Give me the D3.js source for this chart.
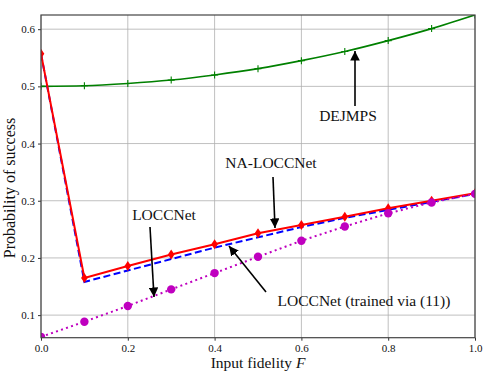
<!DOCTYPE html>
<html><head><meta charset="utf-8">
<script src="https://cdn.jsdelivr.net/npm/d3@7"></script>
<style>body{margin:0;background:#fff}svg{display:block}</style>
</head><body><svg id="c" width="494" height="374"></svg>
<script>
const fidelity = [0.0,0.1,0.2,0.3,0.4,0.5,0.6,0.7,0.8,0.9,1.0];
const dejmps = [0.500,0.501,0.505,0.511,0.520,0.531,0.545,0.561,0.580,0.601,0.625];
const loccnet = [0.557,0.158,0.178,0.198,0.218,0.236,0.254,0.270,0.284,0.298,0.312];
const naLoccnet = [0.557,0.165,0.186,0.206,0.224,0.243,0.2575,0.272,0.287,0.300,0.313];
const loccnetTrained = [0.062,0.0885,0.116,0.145,0.1735,0.202,0.230,0.255,0.278,0.297,0.312];
const xTicks = [0.0,0.2,0.4,0.6,0.8,1.0];
const yTicks = [0.1,0.2,0.3,0.4,0.5,0.6];
const xDomain = [0,1], yDomain = [0.0605,0.6248];
const annotations = [
  {text:"DEJMPS", tx:348, ty:121, from:[355,106], to:[355,51]},
  {text:"NA-LOCCNet", tx:271, ty:168, from:[273,177], to:[275,228]},
  {text:"LOCCNet", tx:164, ty:220, from:[150,227], to:[154,297]},
  {text:"LOCCNet (trained via (11))", tx:364, ty:306, from:[266,292], to:[229,246]}
];
const FONT = '"Liberation Serif", "DejaVu Serif", serif';

const svg = d3.select("#c");
const m = {l:41,r:475,t:15,b:337.7};
const x = d3.scaleLinear().domain(xDomain).range([m.l,m.r]);
const y = d3.scaleLinear().domain(yDomain).range([m.b,m.t]);

const defs = svg.append("defs");
defs.append("clipPath").attr("id","clip").append("rect")
  .attr("x",m.l).attr("y",m.t).attr("width",m.r-m.l).attr("height",m.b-m.t);
defs.append("marker").attr("id","ah").attr("viewBox","0 0 10 10")
  .attr("refX",10).attr("refY",5).attr("markerWidth",6).attr("markerHeight",6)
  .attr("markerUnits","strokeWidth").attr("orient","auto")
  .append("path").attr("d","M0,0L10,5L0,10z").attr("fill","#000");

// grid
const g = svg.append("g");
g.selectAll(".gx").data(xTicks).join("line").attr("x1",d=>x(d)).attr("x2",d=>x(d))
  .attr("y1",m.t).attr("y2",m.b).attr("stroke","#b0b0b0").attr("stroke-width",0.8);
g.selectAll(".gy").data(yTicks).join("line").attr("y1",d=>y(d)).attr("y2",d=>y(d))
  .attr("x1",m.l).attr("x2",m.r).attr("stroke","#b0b0b0").attr("stroke-width",0.8);

// axes
const xa = svg.append("g").attr("transform",`translate(0,${m.b})`)
  .call(d3.axisBottom(x).tickValues(xTicks).tickFormat(d3.format(".1f")).tickSize(3).tickPadding(4));
const ya = svg.append("g").attr("transform",`translate(${m.l},0)`)
  .call(d3.axisLeft(y).tickValues(yTicks).tickFormat(d3.format(".1f")).tickSize(3).tickPadding(3));
[xa,ya].forEach(a=>{
  a.attr("font-family",FONT).attr("font-size",11);
  a.select(".domain").remove();
  a.selectAll("text").style("font-family",FONT).style("font-size","11px").attr("fill","#111");
  a.selectAll("line").attr("stroke","#333");
});

const plot = svg.append("g").attr("clip-path","url(#clip)");
const line = vals => d3.line().x((d,i)=>x(fidelity[i])).y(d=>y(d))(vals);
const lineCurve = vals => d3.line().curve(d3.curveMonotoneX).x((d,i)=>x(fidelity[i])).y(d=>y(d))(vals);

// DEJMPS
plot.append("path").attr("d",lineCurve(dejmps)).attr("fill","none").attr("stroke","#008000").attr("stroke-width",1.6);
plot.selectAll(".pg").data(dejmps).join("path")
  .attr("d",(d,i)=>{const cx=x(fidelity[i]),cy=y(d);return `M${cx-3.5},${cy}H${cx+3.5}M${cx},${cy-3.5}V${cy+3.5}`;})
  .attr("stroke","#008000").attr("stroke-width",1.1);
// LOCCNet blue dashed
plot.append("path").attr("d",line(loccnet)).attr("fill","none").attr("stroke","#0000ff").attr("stroke-width",2).attr("stroke-dasharray","7,3.5");
// NA-LOCCNet red
plot.append("path").attr("d",line(naLoccnet)).attr("fill","none").attr("stroke","#ff0000").attr("stroke-width",2);
plot.selectAll(".pr").data(naLoccnet).join("path")
  .attr("d",(d,i)=>{const cx=x(fidelity[i]),cy=y(d);return `M${cx},${cy-5}L${cx+3.3},${cy}L${cx},${cy+5}L${cx-3.3},${cy}Z`;})
  .attr("fill","#ff0000");
// trained magenta dotted
plot.append("path").attr("d",line(loccnetTrained)).attr("fill","none").attr("stroke","#bf00bf").attr("stroke-width",2).attr("stroke-dasharray","2,3.3");
plot.selectAll(".pm").data(loccnetTrained).join("circle")
  .attr("cx",(d,i)=>x(fidelity[i])).attr("cy",d=>y(d)).attr("r",4.2).attr("fill","#bf00bf");

// frame
svg.append("rect").attr("x",m.l).attr("y",m.t).attr("width",m.r-m.l).attr("height",m.b-m.t)
  .attr("fill","none").attr("stroke","#444").attr("stroke-width",1.2);

// annotations
const an = svg.append("g");
annotations.forEach(a=>{
  an.append("line").attr("x1",a.from[0]).attr("y1",a.from[1]).attr("x2",a.to[0]).attr("y2",a.to[1])
    .attr("stroke","#000").attr("stroke-width",1.6).attr("marker-end","url(#ah)");
  an.append("text").attr("x",a.tx).attr("y",a.ty).attr("text-anchor","middle")
    .style("font-family",FONT).style("font-size","15.5px").attr("fill","#111").text(a.text);
});

// axis labels
const xl = svg.append("text").attr("x",258).attr("y",368).attr("text-anchor","middle")
  .style("font-family",FONT).style("font-size","15.5px").attr("fill","#111");
xl.append("tspan").text("Input fidelity ");
xl.append("tspan").attr("font-style","italic").text("F");
svg.append("text").attr("transform","translate(15,188) rotate(-90)").attr("text-anchor","middle")
  .style("font-family",FONT).style("font-size","16px").attr("fill","#111").text("Probability of success");
</script></body></html>
